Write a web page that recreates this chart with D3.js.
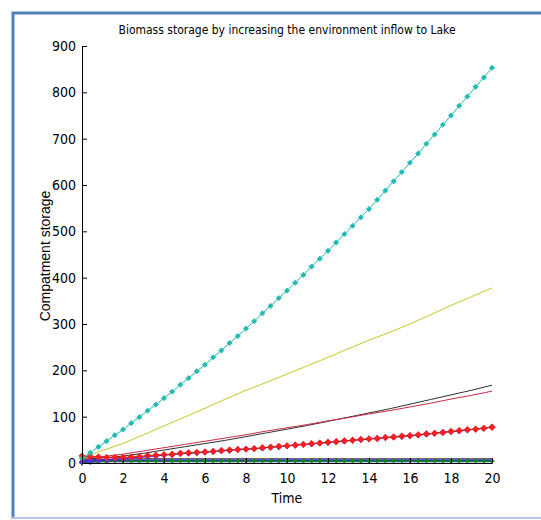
<!DOCTYPE html>
<html>
<head>
<meta charset="utf-8">
<script src="https://cdn.jsdelivr.net/npm/d3@7"></script>
<style>
  body { margin: 0; background: #fff; }
  text { font-family: "Liberation Sans Narrow", "Arial Narrow", "DejaVu Sans Condensed", "Liberation Sans", Arial, sans-serif; fill: #000; }
</style>
</head>
<body>
<svg id="chart" width="541" height="520"></svg>
<script>
'use strict';

let title = "Biomass storage by increasing the environment inflow to Lake";
let xLabel = "Time";
let yLabel = "Compatment storage";
let xTicks = [0, 2, 4, 6, 8, 10, 12, 14, 16, 18, 20];
let yTicks = [0, 100, 200, 300, 400, 500, 600, 700, 800, 900];

// time steps of the solver output (marker series)
let tFine = [0, 0.4, 0.8, 1.2, 1.6, 2, 2.4, 2.8, 3.2, 3.6, 4, 4.4, 4.8, 5.2, 5.6, 6, 6.4, 6.8, 7.2, 7.6,
    8, 8.4, 8.8, 9.2, 9.6, 10, 10.4, 10.8, 11.2, 11.6, 12, 12.4, 12.8, 13.2, 13.6, 14, 14.4, 14.8, 15.2, 15.6,
    16, 16.4, 16.8, 17.2, 17.6, 18, 18.4, 18.8, 19.2, 19.6, 20];
let tCoarse = [0, 1, 2, 3, 4, 5, 6, 7, 8, 9, 10, 11, 12, 13, 14, 15, 16, 17, 18, 19, 20];

let cyanVals = [10, 22, 35, 47, 60, 72, 86, 99, 113, 126, 140, 154, 169, 183, 198, 212, 228, 243, 259, 274,
    290, 306, 323, 339, 356, 372, 389, 406, 424, 441, 458, 476, 494, 512, 530, 548, 568, 588, 608, 628,
    648, 668, 689, 709, 730, 750, 771, 791, 812, 832, 853];
let redMarkVals = [15, 14, 13, 12, 12, 12, 13, 14, 16, 17, 18, 19, 21, 22, 23, 24, 25, 27, 28, 29,
    30, 31, 33, 34, 36, 37, 39, 40, 42, 43, 45, 46, 48, 49, 51, 52, 53, 55, 56, 58,
    59, 61, 63, 64, 66, 68, 70, 72, 73, 75, 77];
let blueMarkVals = [2, 4, 6, 7, 8, 9, 11, 12, 14, 15, 17, 18, 20, 21, 22, 23, 25, 26, 27, 29,
    30, 31, 32, 34, 35, 37, 38, 40, 41, 43, 44, 46, 47, 49, 50, 52, 53, 55, 56, 57,
    59, 60, 62, 64, 66, 68, 69, 71, 73, 75, 78];
let greenVals = [0, 2, 3, 3, 4, 4, 4, 4, 4, 4, 4, 4, 4, 4, 4, 4, 4, 4, 4, 4,
    4, 4, 4, 4, 4, 4, 4, 4, 4, 4, 4, 4, 4, 4, 4, 4, 4, 4, 4, 4,
    4, 4, 4, 4, 4, 4, 4, 4, 4, 4, 4];

let yellowVals = [10, 27, 42, 61, 80, 99, 118, 138, 157, 174, 192, 210, 228, 247, 265, 282, 300, 320, 340, 359, 378];
let blackVals = [8, 11, 15, 21, 28, 35, 42, 49, 57, 65, 73, 81, 90, 99, 108, 117, 127, 137, 147, 157, 168];
let redThinVals = [10, 14, 19, 26, 33, 40, 47, 54, 61, 69, 76, 83, 91, 98, 106, 113, 121, 129, 138, 146, 155];
let blueFlatVals = [3, 5, 5, 5, 5, 5, 5, 5, 5, 5, 5, 5, 5, 5, 5, 5, 5, 5, 5, 5, 5];
let blackFlatVals = [6, 8, 9, 9, 9, 9, 9, 9, 9, 9, 9, 9, 9, 9, 9, 9, 9, 9, 9, 9, 9];

function getChartConfig() {
    let margin = { top: 46, right: 49, bottom: 57, left: 82 },
        width = 541 - margin.left - margin.right,
        height = 520 - margin.top - margin.bottom;

    let svg = d3.select("#chart");

    // figure frame
    svg.append("line").attr("x1", 13).attr("x2", 13).attr("y1", 12).attr("y2", 519)
        .style("stroke", "#4f81bd").style("stroke-width", 3);
    svg.append("line").attr("x1", 12).attr("x2", 541).attr("y1", 13).attr("y2", 13)
        .style("stroke", "#4f81bd").style("stroke-width", 3);
    svg.append("line").attr("x1", 12).attr("x2", 541).attr("y1", 518).attr("y2", 518)
        .style("stroke", "#b4c7e7").style("stroke-width", 2);

    let container = svg.append("g")
        .attr("transform", "translate(" + margin.left + "," + margin.top + ")");

    return { width, height, container, margin, svg };
}

function getScales(config) {
    let { width, height } = config;
    let xScale = d3.scaleLinear().domain([0, 20]).range([0, width]);
    let yScale = d3.scaleLinear().domain([0, 900]).range([height, 0]);
    return { xScale, yScale };
}

function drawAxis(config, scales) {
    let { container, width, height } = config;
    let { xScale, yScale } = scales;

    let yAxis = d3.axisLeft(yScale).tickValues(yTicks).tickSizeInner(-5).tickSizeOuter(0).tickPadding(6);
    container.append("g")
        .attr("class", "y axis")
        .style("font-size", "14px")
        .call(yAxis);

    let xAxis = d3.axisBottom(xScale).tickValues(xTicks).tickSizeInner(-5).tickSizeOuter(0).tickPadding(10);
    container.append("g")
        .attr("class", "x axis")
        .attr("transform", "translate(0," + height + ")")
        .style("font-size", "14px")
        .call(xAxis);

    container.selectAll(".axis path, .axis line").style("stroke", "#000");
    container.selectAll(".axis text").style("font-family", null);

    container.append("text")
        .attr("x", width / 2)
        .attr("y", -12)
        .style("text-anchor", "middle")
        .style("font-size", "12px")
        .text(title);

    container.append("text")
        .attr("x", width / 2)
        .attr("y", height + 40)
        .style("text-anchor", "middle")
        .style("font-size", "14px")
        .text(xLabel);

    container.append("text")
        .attr("transform", "rotate(-90)")
        .attr("x", -210)
        .attr("y", -32)
        .style("text-anchor", "middle")
        .style("font-family", "'Liberation Sans', Arial, sans-serif")
        .style("font-size", "14px")
        .text(yLabel);
}

function drawSeries(config, scales, xs, ys, style) {
    let { container } = config;
    let { xScale, yScale } = scales;
    let pts = xs.map((t, i) => [t, ys[i]]);

    let line = d3.line()
        .x(d => xScale(d[0]))
        .y(d => yScale(d[1]));

    container.append("path")
        .datum(pts)
        .attr("d", line)
        .style("fill", "none")
        .style("stroke", style.line)
        .style("stroke-width", style.width || 1);

    if (!style.marker) return;
    let r = style.size;
    let marks = container.selectAll(null)
        .data(pts)
        .enter()
        .append("path")
        .attr("transform", d => "translate(" + xScale(d[0]) + "," + yScale(d[1]) + ")");
    if (style.marker == "diamond") {
        marks.attr("d", "M0," + (-r) + "L" + r + ",0L0," + r + "L" + (-r) + ",0Z")
            .style("fill", style.color)
            .style("stroke", style.color)
            .style("stroke-width", 0.8);
    } else {
        marks.attr("d", "M" + (-r) + ",0H" + r + "M0," + (-r) + "V" + r)
            .style("fill", "none")
            .style("stroke", style.color)
            .style("stroke-width", 1.8);
    }
}

function drawChart() {
    let config = getChartConfig();
    let scales = getScales(config);

    drawSeries(config, scales, tCoarse, blackFlatVals, { line: "#202020" });
    drawSeries(config, scales, tCoarse, blueFlatVals, { line: "#4a30e0", width: 3 });
    drawSeries(config, scales, tFine, greenVals, { line: "#008000", marker: "plus", color: "#0a8a0a", size: 2.5 });
    drawSeries(config, scales, tCoarse, yellowVals, { line: "#c8c828" });
    drawSeries(config, scales, tCoarse, blackVals, { line: "#303030" });
    drawSeries(config, scales, tCoarse, redThinVals, { line: "#d02848" });
    drawSeries(config, scales, tFine, blueMarkVals, { line: "#2a2ad0", marker: "diamond", color: "#5a32d2", size: 3 });
    drawSeries(config, scales, tFine, redMarkVals, { line: "#8a2010", marker: "diamond", color: "#ff1e1e", size: 3.2 });
    drawSeries(config, scales, tFine, cyanVals, { line: "#22b8b0", marker: "diamond", color: "#22bab2", size: 2.6 });

    drawAxis(config, scales);
}

drawChart();
</script>
</body>
</html>
